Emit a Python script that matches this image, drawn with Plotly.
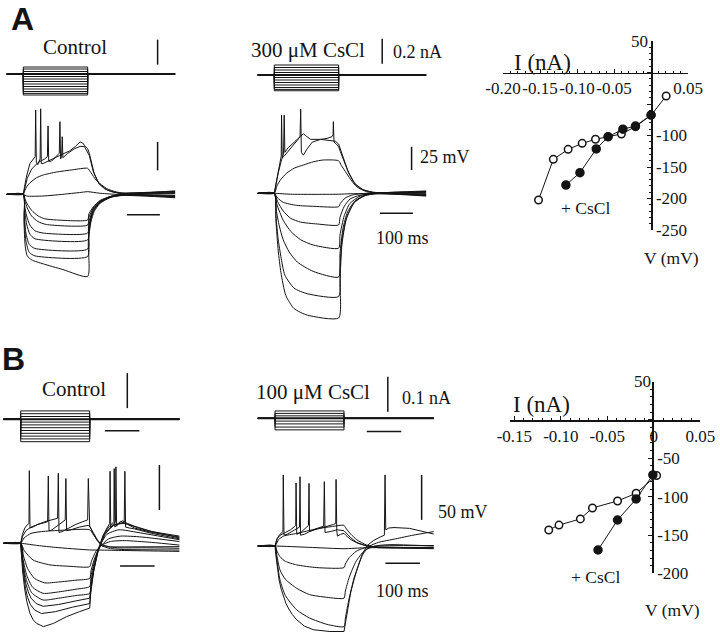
import plotly.graph_objects as go

W, H = 720, 634
SERIF = "Liberation Serif"
SANS = "Liberation Sans"
INK = "#141414"

# ---------------- data ----------------
T0, T1 = -50, 460            # sweep window, ms (step onset = 0)
STEP_A, STEP_B = 195, 200    # step durations, ms

# injected current steps (nA)
I_STEPS_A_CTRL = [0.056, 0.04, 0.02, -0.02, -0.04, -0.06, -0.08, -0.10, -0.12, -0.14, -0.155, -0.168]
I_STEPS_A_CS = [0.08, 0.06, 0.04, 0.02, -0.02, -0.04, -0.06, -0.08, -0.10, -0.115, -0.126]
I_STEPS_B_CTRL = [0.024, 0.016, 0.008, -0.008, -0.016, -0.024, -0.032, -0.040, -0.048, -0.056, -0.064]
I_STEPS_B_CS = [0.021, 0.014, 0.007, -0.008, -0.016, -0.025, -0.033]

# membrane voltage sweeps: (t ms, V mV relative to rest)
A_CTRL_SMOOTH = [
    [(-50,0),(0,0),(5,-4),(12,-8.5),(25,-14),(45,-19),(65,-21.5),(100,-22.5),(195,-22.5),(199,-17),(212,-11),(232,-5.5),(263,-2),(300,-0.5),(460,0.5)],
    [(-50,0),(0,0),(5,-6),(12,-12),(25,-19),(45,-24),(70,-26.5),(195,-27),(199,-20),(212,-12),(232,-6),(263,-2.5),(300,-1),(460,-1.5)],
    [(-50,0),(0,0),(4,-10),(10,-19),(20,-27),(35,-32),(60,-34),(195,-34),(199,-24),(212,-13),(232,-6.5),(263,-2),(300,0),(460,1.5)],
    [(-50,0),(0,0),(4,-14),(10,-26),(20,-35),(35,-39),(195,-40),(199,-27),(212,-14),(232,-7),(263,-2.5),(300,-0.5),(460,-2.5)],
    [(-50,0),(0,0),(3,-18),(8,-34),(18,-44),(35,-47.5),(195,-48),(198,-31),(212,-14.5),(232,-7),(263,-2),(300,0.5),(460,2.5)],
    [(-50,0),(0,0),(3,-22),(8,-41),(18,-51),(35,-54),(195,-54.5),(198,-35),(212,-15),(232,-7.5),(263,-2.5),(300,-1),(460,-3)],
    [(-50,0),(0,0),(2,-24),(6,-46),(12,-54),(25,-57.5),(60,-61),(120,-66),(195,-72),(197,-42),(205,-24),(215,-15),(232,-8),(263,-3),(300,-0.5),(460,3)],
    [(-50,0),(0,0),(10,-1.5),(60,-1.5),(120,0),(170,1.5),(195,2.3),(230,1),(280,0),(460,-1)],
    [(-50,0),(0,0),(5,3.5),(10,6.5),(20,10),(40,14.5),(61,17),(100,19.5),(150,21.5),(195,22.8),(205,19),(222,12),(253,5),(283,2),(320,0.5),(460,1)],
]
A_CTRL_SPIKING = [
    [(-50,0),(0,0),(4,7),(10,16),(20,27),(30,31),(36,33),(37.5,74),(39.5,28),(44,26),(51,31),(52.6,75),(54.5,27),(60,27),(80,30),(110,34),(140,38),(158,42),(172,46),(180,45),(188,42),(195,40),(200,36),(207,27),(215,18),(228,10),(245,5),(270,2),(310,0),(460,-2)],
    [(-50,0),(0,0),(5,6),(12,14),(25,22),(45,28),(65,31),(73,33),(75,60),(77,29),(85,29),(100,34),(109,36),(111,63.7),(113,31),(116,33),(118,50.5),(120,32),(135,36),(155,40),(172,42),(185,42),(195,37),(200,34),(212,20),(230,9),(255,3.5),(290,1),(460,2)],
]
A_CS_SMOOTH = [
    [(-50,0),(0,0),(50,-1),(195,-1),(230,-0.5),(460,0)],
    [(-50,0),(0,0),(10,-5),(27,-9.7),(68,-13),(120,-14),(195,-14.4),(200,-11),(215,-5),(240,-1.5),(280,0),(460,1)],
    [(-50,0),(0,0),(10,-9),(27,-19),(50,-27),(80,-31),(130,-33),(195,-34),(199,-26),(212,-14),(230,-6),(260,-2),(300,-0.5),(460,-1.5)],
    [(-50,0),(0,0),(8,-12),(27,-29),(50,-41),(80,-50),(118,-55.6),(195,-59),(199,-45),(212,-24),(229,-11),(260,-3),(300,0),(460,2)],
    [(-50,0),(0,0),(6,-18),(15,-35),(27,-50),(45,-63),(70,-74),(118,-84),(195,-90),(199,-65),(208,-38),(222,-20),(245,-8),(275,-2),(310,0),(460,-2.5)],
    [(-50,0),(0,0),(5,-25),(12,-50),(20,-68),(32,-88),(60,-102),(100,-108),(195,-111),(199,-80),(206,-48),(220,-25),(245,-9),(275,-2.5),(310,0),(460,2.5)],
    [(-50,0),(0,0),(5,-30),(12,-62),(20,-85),(35,-110),(60,-124),(100,-131),(195,-134),(199,-95),(205,-55),(218,-28),(240,-11),(270,-3),(310,-0.5),(460,-3)],
    [(-50,0),(0,0),(8,8),(20,15),(37,21.5),(60,27),(88,30.4),(120,34),(148,35.8),(195,35),(203,30),(219,21.5),(235,13),(250,7),(280,1.7),(320,0),(460,-1)],
]
A_CS_SPIKING = [
    [(-50,0),(0,0),(5,10),(12,25),(18,35),(21,40),(22,84),(24,38),(30,40),(45,46),(60,53),(72,58),(78,61),(80,90.6),(82,44),(88,41),(100,48),(115,55),(140,58),(165,57),(185,56),(195,53),(200,48),(210,37),(222,25),(240,12),(260,5),(290,1.5),(330,0),(460,1.5)],
    [(-50,0),(0,0),(5,9),(12,22),(22,36),(28,42),(30,84),(32,44),(42,49),(60,55),(75,60),(88,64),(95,62),(110,58),(140,58),(160,59),(175,61),(178,63),(179,77),(181,55),(188,53),(195,50),(200,45),(212,33),(225,22),(245,10),(270,3.5),(300,1),(460,-1.5)],
]
B_CTRL_SMOOTH = [
    [(-50,0),(0,0),(50,-2.5),(100,-4.5),(200,-7.4),(230,-7.5),(300,-8),(460,-9)],
    [(-50,0),(0,0),(10,-8),(36,-18.6),(85,-24),(140,-25.5),(200,-26),(205,-20),(218,-9),(235,-2),(260,2),(300,3),(380,1),(460,-2)],
    [(-50,0),(0,0),(8,-14),(20,-28),(40,-39),(70,-44),(110,-43),(160,-41),(200,-39),(204,-30),(215,-16),(230,-4),(255,5),(290,8),(350,7),(460,2)],
    [(-50,0),(0,0),(7,-18),(18,-36),(35,-49),(65,-55.6),(110,-54),(160,-51),(200,-48),(204,-36),(214,-20),(228,-4),(250,10),(285,15),(340,12),(460,4)],
    [(-50,0),(0,0),(6,-20),(16,-40),(32,-55),(65,-63),(110,-61),(160,-58),(200,-55.6),(204,-42),(213,-24),(226,-6),(245,10),(270,20),(300,22),(350,16),(460,6)],
    [(-50,0),(0,0),(10,6),(30,11),(60,13),(120,14.5),(200,15),(210,10),(225,2),(245,-3),(280,-5),(350,-5),(460,-5.5)],
]
B_CTRL_SPIKING = [
    [(-50,0),(0,0),(3,-12),(6,-23),(10,-34),(15,-45),(22,-54),(30,-61),(45,-67),(65,-70),(110,-68),(160,-64),(200,-61),(204,-46),(213,-27),(225,-8),(243,10),(265,20),(285,22),(300,23),(302,80),(304,18),(315,17),(330,16),(380,11),(460,5)],
    [(-50,0),(0,0),(3,-14),(6,-27),(10,-38),(14,-50),(20,-60),(28,-68),(40,-74),(60,-78),(100,-76),(150,-71),(200,-67),(204,-50),(212,-30),(224,-9),(240,9),(255,18),(270,24),(271,83),(273,18),(280,21),(290,24),(310,21),(330,17),(380,12),(460,7)],
    [(-50,0),(0,0),(3,-18),(6,-33),(12,-52),(18,-65),(27,-78),(36,-85),(46,-89),(66,-92.6),(95,-89),(133,-81.5),(170,-76),(200,-72),(203,-55),(211,-32),(222,-10),(238,8),(250,17),(258,22),(259,80),(261,17),(266,20),(275,24),(276,85),(278,19),(285,23),(295,25),(310,22),(330,19),(380,13),(460,8)],
    [(-50,0),(0,0),(5,10),(12,17),(20,21),(24,22),(25,80.7),(27,17),(35,18),(50,21),(70,24),(95,26),(107,27.8),(109,77.8),(111,12),(120,13),(140,17),(160,21),(180,24),(194,26),(196,72),(198,20),(200,19),(210,11),(222,3),(235,-3),(260,-6),(300,-7),(380,-7),(460,-7.5)],
    [(-50,0),(0,0),(6,8),(15,14),(30,18),(50,21),(70,23),(78,24),(80,74.8),(82,14),(90,14.8),(105,19),(120,23),(129,25.9),(131,72),(133,14),(145,15),(170,18),(196,20),(200,19),(210,12),(222,4),(235,-2),(260,-4),(300,-4),(380,-3.5),(460,-3.7)],
]
B_CS_SMOOTH = [
    [(-50,0),(0,0),(100,-1.5),(200,-3),(260,-2),(460,-1.5)],
    [(-50,0),(0,0),(5,-5),(14.5,-11.9),(30,-17),(63,-21),(121,-24),(200,-24),(204,-20),(215,-13),(235,-6),(260,-2),(300,0),(460,0.5)],
    [(-50,0),(0,0),(5,-10),(14.5,-26.7),(30,-37),(63,-47),(100,-54),(150,-57),(200,-58),(204,-50),(215,-35),(235,-17),(260,-5),(290,0),(330,1.5),(460,0)],
    [(-50,0),(0,0),(5,-14),(14.5,-37.8),(30,-55),(63,-71),(100,-80),(150,-87),(200,-89.6),(204,-80),(215,-58),(237,-27),(255,-9),(275,0),(300,4),(350,8),(400,12),(460,16)],
    [(-50,0),(0,0),(10,7),(25,11),(63,14),(120,19),(163,21.5),(200,23),(205,20),(220,13),(237,7),(266,1),(300,-1.5),(460,-2)],
]
B_CS_SPIKING = [
    [(-50,0),(0,0),(2,-9),(4.8,-19.3),(8,-29),(12,-38),(18,-48),(24,-56),(32,-64),(40,-70),(50,-76),(63,-82),(85,-89),(111,-93),(159,-95),(200,-95),(203,-88),(208,-75),(214,-62),(220,-50),(228,-37),(237,-26.7),(244,-17),(252,-10),(266,0),(285,6),(305,10),(317,12),(319,79),(321,18),(330,20),(345,20.5),(390,19.6),(420,17),(460,13.3)],
    [(-50,0),(0,0),(5,7),(12,12),(20,15),(23,16),(24,79),(26,12),(35,13),(50,16),(65,19),(71,21),(72.5,77),(74,12),(85,13),(105,17),(125,20),(141,22),(143,71.5),(145,15),(160,16),(180,18),(200,17),(205,15),(220,9),(237,4),(266,0),(300,-2),(460,-3)],
    [(-50,0),(0,0),(6,8),(15,12),(30,15),(45,18),(58,22),(60,23),(61,70),(63,13),(75,15),(90,21),(97,23),(98.6,69.6),(100,16),(115,18),(135,20),(155,22),(170,24),(176,25),(177,74),(179,17),(181,11),(190,13),(200,14),(205,12),(220,7),(240,3),(266,0),(300,-1),(460,-2.5)],
]

# I-V relations (I nA, V mV)
IV_A_I_CTRL = [0.0205, 0.0003, -0.021, -0.040, -0.058, -0.075, -0.093, -0.112, -0.132, -0.152]
IV_A_V_CTRL = [-37.3, -67.5, -86, -97.6, -101.9, -106, -112.5, -122, -137.8, -202.4]
IV_A_I_CS = [0.0, -0.021, -0.038, -0.058, -0.074, -0.096, -0.115]
IV_A_V_CS = [-67.5, -85, -90, -102, -121.4, -159, -178.6]
IV_B_I_CTRL = [0.003, -0.019, -0.039, -0.066, -0.079, -0.102, -0.113]
IV_B_V_CTRL = [-72.4, -95.6, -105.6, -114.7, -129, -137, -143.4]
IV_B_I_CS = [-0.001, -0.019, -0.039, -0.060]
IV_B_V_CS = [-71.7, -103, -130.4, -169.5]

IV_A_XTICKS = [-0.20, -0.15, -0.10, -0.05, 0.0, 0.05]
IV_A_XLABELS = ["-0.20", "-0.15", "-0.10", "-0.05", "", "0.05"]
IV_A_YTICKS = [0, -50, -100, -150, -200, -250]
IV_A_YLABELS = ["", "", "-100", "-150", "-200", "-250"]
IV_B_XTICKS = [-0.15, -0.10, -0.05, 0.0, 0.05]
IV_B_XLABELS = ["-0.15", "-0.10", "-0.05", "0", "0.05"]
IV_B_YTICKS = [0, -50, -100, -150, -200]
IV_B_YLABELS = ["", "-50", "-100", "-150", "-200"]
IV_YTOP = 50

BAR_I_A, BAR_I_B = 0.2, 0.1   # nA
BAR_V_A, BAR_V_B = 25, 50     # mV
BAR_T = 100                   # ms

# ---------------- layout helpers ----------------
def px_x(p): return p / W
def px_y(p): return 1 - p / H
def lname(ref): return ref[0] + "axis" + ref[1:]

layout_axes = {}

def time_axis(ref, px0, px1, onset_px, ppms):
    layout_axes[lname(ref)] = dict(
        domain=[px_x(px0), px_x(px1)],
        range=[(px0 - onset_px) / ppms, (px1 - onset_px) / ppms],
        visible=False, fixedrange=True, automargin=False)

def value_axis(ref, xref, top, bot, base_px, ppu):
    layout_axes[lname(ref)] = dict(
        domain=[px_y(bot), px_y(top)],
        range=[-(bot - base_px) / ppu, (base_px - top) / ppu],
        anchor=xref, visible=False, fixedrange=True, automargin=False)

fig = go.Figure()

def line(pts, xa, ya, shape="spline", width=1.0):
    fig.add_trace(go.Scatter(
        x=[p[0] for p in pts], y=[p[1] for p in pts], mode="lines",
        xaxis=xa, yaxis=ya, hoverinfo="skip",
        line=dict(color=INK, width=width, shape=shape,
                  **({"smoothing": 0.6} if shape == "spline" else {}))))

def seg(xa, ya, xs, ys, width=1.5):
    fig.add_trace(go.Scatter(x=xs, y=ys, mode="lines", xaxis=xa, yaxis=ya,
                             hoverinfo="skip", line=dict(color=INK, width=width)))

def panel(xa, yc, yv, steps, step_len, smooth, spiking):
    seg(xa, yc, [T0, T1], [0, 0], width=2.0)
    for lv in steps:
        seg(xa, yc, [T0, 0, 0, step_len, step_len, T1], [0, 0, lv, lv, 0, 0], width=1.0)
    for tr in smooth:
        line(tr, xa, yv, "spline", 1.0)
    for tr in spiking:
        line(tr, xa, yv, "linear", 1.0)

# A control
time_axis("x", 0, 205, 23.3, 0.33)
value_axis("y", "x", 28, 104, 74, 125)
value_axis("y2", "x", 104, 332, 194.3, 1.14)
panel("x", "y", "y2", I_STEPS_A_CTRL, STEP_A, A_CTRL_SMOOTH, A_CTRL_SPIKING)
seg("x", "y", [407, 407], [0.075, 0.075 + BAR_I_A])
seg("x", "y2", [407, 407], [21, 21 + BAR_V_A])
seg("x", "y2", [314, 314 + BAR_T], [-18, -18])

# A CsCl
time_axis("x2", 235, 470, 274.3, 0.33)
value_axis("y3", "x2", 28, 104, 75, 125)
value_axis("y4", "x2", 104, 332, 193.3, 0.93)
panel("x2", "y3", "y4", I_STEPS_A_CS, STEP_A, A_CS_SMOOTH, A_CS_SPIKING)
seg("x2", "y3", [327, 327], [0.09, 0.09 + BAR_I_A])
seg("x2", "y4", [416, 416], [25, 25 + BAR_V_A])
seg("x2", "y4", [320, 320 + BAR_T], [-21.5, -21.5])

# B control
time_axis("x3", 0, 205, 20.7, 0.345)
value_axis("y5", "x3", 365, 450, 419.3, 350)
value_axis("y6", "x3", 450, 634, 543.3, 0.9)
panel("x3", "y5", "y6", I_STEPS_B_CTRL, STEP_B, B_CTRL_SMOOTH, B_CTRL_SPIKING)
seg("x3", "y5", [309, 309], [0.032, 0.032 + BAR_I_B])
seg("x3", "y5", [244, 244 + BAR_T], [-0.033, -0.033])
seg("x3", "y6", [402, 402], [37, 37 + BAR_V_B])
seg("x3", "y6", [288, 288 + BAR_T], [-25.2, -25.2])

# B CsCl
time_axis("x4", 235, 470, 275, 0.345)
value_axis("y7", "x4", 365, 450, 418.3, 350)
value_axis("y8", "x4", 450, 634, 546, 0.9)
panel("x4", "y7", "y8", I_STEPS_B_CS, STEP_B, B_CS_SMOOTH, B_CS_SPIKING)
seg("x4", "y7", [327, 327], [0.019, 0.019 + BAR_I_B])
seg("x4", "y7", [266, 266 + BAR_T], [-0.038, -0.038])
seg("x4", "y8", [425, 425], [29, 29 + BAR_V_B])
seg("x4", "y8", [320, 320 + BAR_T], [-19.2, -19.2])

# ---------------- I-V plots ----------------
tickfont = dict(family=SERIF, size=17, color=INK)

def iv_axes(xr, yr, xrange, yrange, xpx, ypx, origin_x_px, origin_y_px, xt, xl, yt, yl, ydtick):
    layout_axes[lname(xr)] = dict(
        domain=[px_x(xpx[0]), px_x(xpx[1])], range=xrange, anchor="free",
        position=px_y(origin_y_px), side="bottom", showline=True, linecolor=INK,
        linewidth=1.5, ticks="inside", ticklen=4, tickcolor=INK, tickwidth=1,
        tickmode="array", tickvals=xt, ticktext=xl, tickangle=0, tickfont=tickfont,
        showgrid=False, zeroline=False, fixedrange=True, automargin=False,
        minor=dict(ticks="inside", ticklen=2, tickcolor=INK, dtick=0.01, tick0=0, showgrid=False))
    layout_axes[lname(yr)] = dict(
        domain=[px_y(ypx[1]), px_y(ypx[0])], range=yrange, anchor="free",
        position=px_x(origin_x_px), side="right", showline=True, linecolor=INK,
        linewidth=1.5, ticks="inside", ticklen=4, tickcolor=INK, tickwidth=1,
        tickmode="array", tickvals=yt, ticktext=yl, tickfont=tickfont,
        showgrid=False, zeroline=False, fixedrange=True, automargin=False,
        minor=dict(ticks="inside", ticklen=2, tickcolor=INK, dtick=ydtick, tick0=0, showgrid=False))

def iv_series(xa, ya, I, V, filled):
    fig.add_trace(go.Scatter(
        x=I, y=V, mode="lines+markers", xaxis=xa, yaxis=ya, hoverinfo="skip",
        line=dict(color=INK, width=1),
        marker=dict(symbol="circle", size=8 if filled else 7.5,
                    color=INK if filled else "white",
                    line=dict(color=INK, width=1.5))))

iv_axes("x5", "y9", [-0.20, 0.05], [-250, 50], (503, 688), (41, 230), 651, 72.5,
        IV_A_XTICKS, IV_A_XLABELS, IV_A_YTICKS, IV_A_YLABELS, 10)
iv_series("x5", "y9", IV_A_I_CTRL, IV_A_V_CTRL, False)
iv_series("x5", "y9", IV_A_I_CS, IV_A_V_CS, True)

iv_axes("x6", "y10", [-0.155, 0.05], [-200, 50], (509.7, 700.3), (381.6, 573.4), 652.3, 420,
        IV_B_XTICKS, IV_B_XLABELS, IV_B_YTICKS, IV_B_YLABELS, 10)
iv_series("x6", "y10", IV_B_I_CTRL, IV_B_V_CTRL, False)
iv_series("x6", "y10", IV_B_I_CS, IV_B_V_CS, True)

# ---------------- text ----------------
annotations = []

def txt(text, px, py, size, xanchor="center", family=SERIF, bold=False):
    annotations.append(dict(
        text=f"<b>{text}</b>" if bold else text, x=px_x(px), y=px_y(py),
        xref="paper", yref="paper", xanchor=xanchor, yanchor="middle",
        showarrow=False, font=dict(family=family, size=size, color=INK)))

txt("A", 9, 19, 32, "left", SANS, True)
txt("B", 0, 359, 32, "left", SANS, True)
txt("Control", 75, 47, 21)
txt("300 \u03bcM CsCl", 307.5, 50, 21)
txt("0.2 nA", 391, 52, 18, "left")
txt("25 mV", 418, 157, 18, "left")
txt("100 ms", 402, 238, 18)
txt("Control", 73.5, 389, 21)
txt("100 \u03bcM CsCl", 313, 392, 21)
txt("0.1 nA", 400, 398, 18, "left")
txt("50 mV", 436, 512, 18, "left")
txt("100 ms", 402, 591, 18)

txt("I (nA)", 542, 62, 23)
txt("V (mV)", 671, 258, 17.5)
txt("+ CsCl", 585, 208, 17.5)
txt("I (nA)", 541, 404, 23)
txt("V (mV)", 672, 610, 17.5)
txt("+ CsCl", 595, 577, 17.5)

for xa, ya in (("x5", "y9"), ("x6", "y10")):
    annotations.append(dict(text=str(IV_YTOP), x=0, y=IV_YTOP, xref=xa, yref=ya,
                            xanchor="right", yanchor="middle", xshift=-1, showarrow=False,
                            font=dict(family=SERIF, size=17, color=INK)))

fig.update_layout(
    template="none",
    width=W, height=H, margin=dict(l=0, r=0, t=0, b=0, pad=0, autoexpand=False),
    paper_bgcolor="white", plot_bgcolor="white", showlegend=False,
    font=dict(family=SERIF, color=INK),
    annotations=annotations, **layout_axes)

fig.write_html(
    "out.html",
    config={"displayModeBar": False, "staticPlot": True},
    post_script="document.body.style.margin='0';document.body.style.padding='0';"
                "document.documentElement.style.overflow='hidden';")
